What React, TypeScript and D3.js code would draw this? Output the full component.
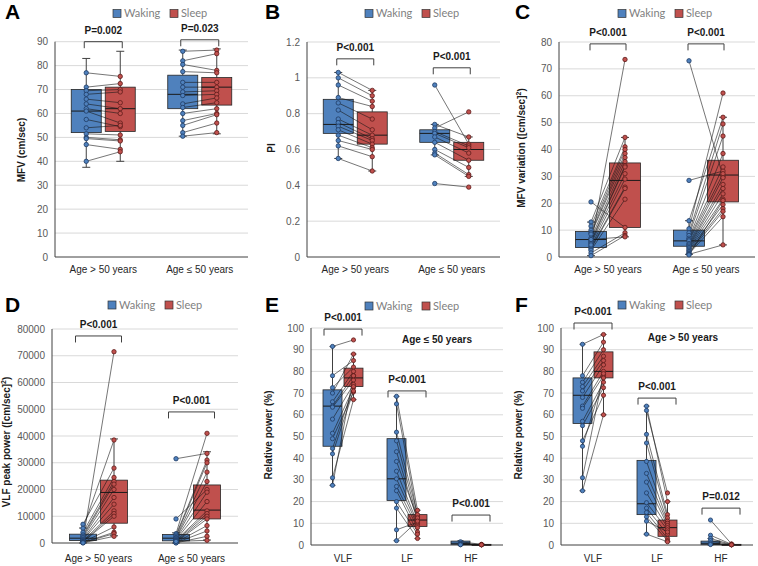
import React from "react";
import * as d3 from "d3";

const BLUE = "#4f81bd";
const RED = "#c0504d";
const BLUE_EDGE = "#1f3b63";
const RED_EDGE = "#5e1c1a";

const ageGroups = ["Age > 50 years", "Age ≤ 50 years"];
const bands = ["VLF", "LF", "HF"];
const legendLabels = ["Waking", "Sleep"];

// box stats: [low whisker, q1, median, q3, high whisker]
// Panel A – MFV
const aWakeBox = [[37.5, 52, 61, 70, 83], [50.5, 62, 68, 76, 86.5]];
const aSleepBox = [[40, 52.5, 62, 71, 86], [51.5, 63.5, 71, 75, 87]];
const aWake = [
  [77, 71, 69.5, 68, 66, 64, 62, 61, 57.5, 54, 51.5, 50, 49.5, 47, 40],
  [86, 82, 80.5, 77.5, 73, 71, 69, 67.5, 64, 62.5, 60, 57, 55, 52, 50.5],
];
const aSleep = [
  [75.5, 72.5, 70, 69, 64.5, 62, 60, 56, 54.5, 55, 51, 49, 48.5, 45, 44],
  [86.5, 85, 78, 77, 73, 71, 69.5, 68, 66.5, 64.5, 62, 60, 59.5, 56, 52],
];
const aP = ["P=0.002", "P=0.023"];
const aPy = [90, 90.8];

// Panel B – PI
const bWakeBox = [[0.55, 0.69, 0.74, 0.88, 1.03], [0.57, 0.64, 0.69, 0.71, 0.74]];
const bSleepBox = [[0.48, 0.63, 0.68, 0.81, 0.93], [0.45, 0.54, 0.6, 0.64, 0.67]];
const bWake = [
  [1.03, 1.0, 0.96, 0.89, 0.86, 0.82, 0.77, 0.75, 0.73, 0.71, 0.68, 0.65, 0.62, 0.55],
  [0.96, 0.74, 0.72, 0.7, 0.69, 0.67, 0.64, 0.6, 0.58, 0.57, 0.41],
];
const bSleep = [
  [0.93, 0.9, 0.87, 0.84, 0.77, 0.71, 0.68, 0.66, 0.65, 0.63, 0.61, 0.6, 0.56, 0.48],
  [0.63, 0.67, 0.81, 0.62, 0.61, 0.58, 0.54, 0.5, 0.46, 0.45, 0.39],
];
const bP = ["P<0.001", "P<0.001"];
const bPy = [1.106, 1.056];

// Panel C – MFV variation
const cWakeBox = [[0.5, 3.5, 6.5, 9.5, 13], [1, 4, 6, 10, 13.5]];
const cSleepBox = [[7.5, 11, 28.5, 35, 44.5], [4.5, 20.5, 30.5, 36, 52]];
const cWake = [
  [20.5, 13, 11.5, 10, 9, 8.5, 7, 6, 5.5, 5, 4, 3.5, 3, 2.5, 1.5, 0.5, 4.5, 6.5],
  [73, 28.5, 13.5, 10.5, 9, 8, 7, 6.5, 6, 5, 4.5, 4, 3.5, 3, 2.5, 2, 1.5, 1.2, 1, 0.8],
];
const cSleep = [
  [11, 44.5, 41, 40, 38.5, 37, 35.5, 34, 33.5, 31, 29, 26, 25.5, 21.5, 9, 8, 73.5, 7.5],
  [30, 32, 52, 61, 49.5, 45, 38.5, 33.5, 31, 29.5, 27, 25.5, 23.5, 21.5, 19.5, 18, 17, 15, 4.5, 21],
];
const cP = ["P<0.001", "P<0.001"];
const cPy = [79.3, 79.3];

// Panel D – VLF peak power
const dWakeBox = [[0, 900, 1800, 3300, 5600], [0, 800, 1800, 3200, 3800]];
const dSleepBox = [[2700, 7400, 18900, 23500, 38900], [1100, 9000, 12300, 21700, 34100]];
const dWake = [
  [7000, 5500, 4000, 3000, 2500, 2000, 1500, 1200, 1000, 800, 500, 400, 300, 200, 100, 50],
  [31500, 9000, 3500, 3000, 2500, 2000, 1800, 1500, 1200, 1000, 800, 500, 300, 200, 100, 50, 600],
];
const dSleep = [
  [28000, 38500, 24500, 23000, 22000, 20000, 17000, 14500, 71500, 12000, 11000, 10000, 6000, 4000, 3500, 2500],
  [33500, 20000, 41000, 31000, 30000, 26500, 23000, 19000, 15500, 12000, 11000, 10000, 9000, 6500, 4500, 2500, 1000],
];
const dP = ["P<0.001", "P<0.001"];
const dPy = [77400, 49000];

// Panel E – relative power, Age ≤ 50
const eWakeBox = [[27.5, 45.5, 64, 71.5, 91.5], [2, 20.5, 30.5, 49, 68.5], [0, 0.3, 0.8, 1.8, 2]];
const eSleepBox = [[67, 73, 77, 81.5, 88], [3, 8.5, 11.5, 14, 16], [0, 0, 0.1, 0.3, 0.5]];
const eWake = [
  [91.5, 78, 72.5, 70, 66, 64, 63.5, 58, 51.5, 49, 44.5, 42, 31, 27.5],
  [68.5, 65, 52, 48, 43, 38.5, 34, 30.5, 27, 25, 20, 17, 7, 2],
  [1.5, 0.8, 0.5, 0.3, 0.2, 0.1],
];
const eSleep = [
  [94.5, 85, 82, 88, 80, 78, 76, 74, 72.5, 70.5, 73, 71, 67, 78],
  [16, 13, 14, 12, 11, 12.5, 10, 9, 8, 6, 5, 3, 10.5, 11],
  [0.3, 0.2, 0.1, 0.1, 0.1, 0.1],
];
const eP = ["P<0.001", "P<0.001", "P<0.001"];
const ePy = [99.5, 71, 13.8];

// Panel F – relative power, Age > 50
const fWakeBox = [[25, 56, 69, 77, 92.5], [5, 14, 19, 39, 64], [0, 0.3, 0.8, 1.8, 3]];
const fSleepBox = [[60, 77, 80, 89, 97], [1.5, 4, 8, 11.5, 20], [0, 0, 0.1, 0.3, 0.5]];
const fWake = [
  [92.5, 78, 75, 73, 71, 68, 64, 63, 57, 55, 48, 45.5, 31, 25],
  [64, 62, 51, 47, 38.5, 33, 29, 24, 19.5, 17, 15, 13, 11, 5],
  [11.5, 4.5, 3, 2, 1, 0.5, 0.2],
];
const fSleep = [
  [97, 93.5, 90, 87, 85, 83, 80, 78, 75, 72.5, 69, 77, 79, 60],
  [20, 24, 14, 12.5, 11, 10, 9, 8, 7, 5, 3, 2, 6, 1.5],
  [0.5, 0.3, 0.2, 0.1, 0.1, 0.1, 0.1],
];
const fP = ["P<0.001", "P<0.001", "P=0.012"];
const fPy = [102.3, 67.7, 17];

type Cfg = {
  x0: number; x1: number; yTop: number; yBot: number;
  max: number; step: number; fmt: (v: number) => string;
  cats: string[];
  wakeBox: number[][]; sleepBox: number[][];
  wake: number[][]; sleep: number[][];
  pLabels: string[]; pY: number[];
  boxW: number; off: number; capW: number; brHalf: number; r: number;
  letter: string; letterX: number; letterY: number;
  legendX: number; legendY: number;
  yLabel: React.ReactNode; yLabelX: number; yLabelY: number;
  xLabelY: number;
  note?: string; noteX?: number; noteY?: number;
};

const FONT = "'Liberation Sans', Arial, sans-serif";

function Box({ cx, w, stats, y, fill, capW }: any) {
  const [lo, q1, med, q3, hi] = stats;
  const h = Math.max(1, y(q1) - y(q3));
  return (
    <g>
      <line x1={cx} x2={cx} y1={y(lo)} y2={y(q1)} stroke="#404040" strokeWidth={1} />
      <line x1={cx} x2={cx} y1={y(q3)} y2={y(hi)} stroke="#404040" strokeWidth={1} />
      <line x1={cx - capW / 2} x2={cx + capW / 2} y1={y(lo)} y2={y(lo)} stroke="#404040" strokeWidth={1} />
      <line x1={cx - capW / 2} x2={cx + capW / 2} y1={y(hi)} y2={y(hi)} stroke="#404040" strokeWidth={1} />
      <rect x={cx - w / 2} y={y(q3)} width={w} height={h} fill={fill} stroke="#262626" strokeWidth={0.8} />
      <line x1={cx - w / 2} x2={cx + w / 2} y1={y(med)} y2={y(med)} stroke="#1a1a1a" strokeWidth={1} />
    </g>
  );
}

function Panel({ c }: { c: Cfg }) {
  const y = d3.scaleLinear().domain([0, c.max]).range([c.yBot, c.yTop]);
  const x = d3.scaleBand<string>().domain(c.cats).range([c.x0, c.x1]).padding(0);
  const ticks = d3.range(0, c.max + c.step / 2, c.step);
  return (
    <g>
      {ticks.filter((t) => t > 0).map((t) => (
        <line key={"g" + t} x1={c.x0} x2={c.x1} y1={y(t)} y2={y(t)} stroke="#d9d9d9" strokeWidth={1} />
      ))}
      {ticks.map((t) => (
        <text key={"t" + t} x={c.x0 - 7} y={y(t)} dy="0.35em" textAnchor="end" fontSize={10} fill="#595959" fontFamily={FONT}>
          {c.fmt(t)}
        </text>
      ))}
      <line x1={c.x0} x2={c.x0} y1={c.yTop} y2={c.yBot} stroke="#404040" strokeWidth={1} />
      <line x1={c.x0} x2={c.x1} y1={c.yBot} y2={c.yBot} stroke="#404040" strokeWidth={1} />
      {c.cats.map((cat, i) => {
        const cx = (x(cat) as number) + x.bandwidth() / 2;
        const wx = cx - c.off;
        const sx = cx + c.off;
        const py = y(c.pY[i]);
        return (
          <g key={cat}>
            <Box cx={wx} w={c.boxW} stats={c.wakeBox[i]} y={y} fill={BLUE} capW={c.capW} />
            <Box cx={sx} w={c.boxW} stats={c.sleepBox[i]} y={y} fill={RED} capW={c.capW} />
            {c.wake[i].map((w, j) => (
              <line key={"l" + j} x1={wx} x2={sx} y1={y(w)} y2={y(c.sleep[i][j])} stroke="#1a1a1a" strokeWidth={0.6} />
            ))}
            {c.wake[i].map((w, j) => (
              <circle key={"w" + j} cx={wx} cy={y(w)} r={c.r} fill={BLUE} stroke={BLUE_EDGE} strokeWidth={0.8} />
            ))}
            {c.sleep[i].map((s, j) => (
              <circle key={"s" + j} cx={sx} cy={y(s)} r={c.r} fill={RED} stroke={RED_EDGE} strokeWidth={0.8} />
            ))}
            <path d={`M${cx - c.brHalf},${py + 6.5}V${py}H${cx + c.brHalf}V${py + 6.5}`} fill="none" stroke="#404040" strokeWidth={1} />
            <text x={cx} y={py - 8} textAnchor="middle" fontSize={10} fontWeight="bold" fill="#1a1a1a" fontFamily={FONT}>
              {c.pLabels[i]}
            </text>
            <text x={cx} y={c.xLabelY} textAnchor="middle" fontSize={10} fill="#262626" fontFamily={FONT}>
              {cat}
            </text>
          </g>
        );
      })}
      {legendLabels.map((l, i) => (
        <g key={l}>
          <rect x={c.legendX + i * 57} y={c.legendY - 4} width={8} height={8} fill={i === 0 ? BLUE : RED} stroke="#333" strokeWidth={0.7} />
          <text x={c.legendX + i * 57 + 11} y={c.legendY} dy="0.35em" fontSize={11} fill="#7f7f7f" fontFamily="Lato, 'Open Sans', sans-serif">
            {l}
          </text>
        </g>
      ))}
      <text x={c.letterX} y={c.letterY} fontSize={21} fontWeight="bold" fill="#000" fontFamily={FONT}>
        {c.letter}
      </text>
      <text transform={`translate(${c.yLabelX + 4},${c.yLabelY}) rotate(-90)`} textAnchor="middle" fontSize={10} fontWeight="bold" fill="#1a1a1a" fontFamily={FONT}>
        {c.yLabel}
      </text>
      {c.note && (
        <text x={c.noteX} y={c.noteY} textAnchor="middle" fontSize={10} fontWeight="bold" fill="#1a1a1a" fontFamily={FONT}>
          {c.note}
        </text>
      )}
    </g>
  );
}

const intFmt = (v: number) => d3.format("d")(v);
const decFmt = (v: number) => String(+v.toFixed(1));

const panels: Cfg[] = [
  {
    x0: 55, x1: 248, yTop: 41.7, yBot: 257, max: 90, step: 10, fmt: intFmt, cats: ageGroups,
    wakeBox: aWakeBox, sleepBox: aSleepBox, wake: aWake, sleep: aSleep, pLabels: aP, pY: aPy,
    boxW: 30, off: 17, capW: 8, brHalf: 19, r: 2.2,
    letter: "A", letterX: 5, letterY: 19, legendX: 113, legendY: 13.5,
    yLabel: "MFV  (cm/sec)", yLabelX: 21, yLabelY: 150, xLabelY: 273,
  },
  {
    x0: 307, x1: 500, yTop: 42, yBot: 257, max: 1.2, step: 0.2, fmt: decFmt, cats: ageGroups,
    wakeBox: bWakeBox, sleepBox: bSleepBox, wake: bWake, sleep: bSleep, pLabels: bP, pY: bPy,
    boxW: 30, off: 17, capW: 8, brHalf: 18.5, r: 2.2,
    letter: "B", letterX: 265, letterY: 19, legendX: 365, legendY: 13.5,
    yLabel: "PI", yLabelX: 271, yLabelY: 148, xLabelY: 273,
  },
  {
    x0: 559, x1: 755, yTop: 42, yBot: 257, max: 80, step: 10, fmt: intFmt, cats: ageGroups,
    wakeBox: cWakeBox, sleepBox: cSleepBox, wake: cWake, sleep: cSleep, pLabels: cP, pY: cPy,
    boxW: 31, off: 17, capW: 8, brHalf: 18, r: 2.2,
    letter: "C", letterX: 515, letterY: 19, legendX: 618, legendY: 13.5,
    yLabel: (<>MFV variation ([cm/sec]<tspan fontSize={7} dy={-4}>2</tspan><tspan dy={4}>)</tspan></>),
    yLabelX: 521, yLabelY: 148, xLabelY: 273,
  },
  {
    x0: 52, x1: 238, yTop: 329, yBot: 543, max: 80000, step: 10000, fmt: intFmt, cats: ageGroups,
    wakeBox: dWakeBox, sleepBox: dSleepBox, wake: dWake, sleep: dSleep, pLabels: dP, pY: dPy,
    boxW: 27, off: 15.5, capW: 8, brHalf: 23, r: 2.2,
    letter: "D", letterX: 5, letterY: 312, legendX: 108, legendY: 305,
    yLabel: (<>VLF peak power ([cm/sec]<tspan fontSize={7} dy={-4}>2</tspan><tspan dy={4}>)</tspan></>),
    yLabelX: 6, yLabelY: 442, xLabelY: 562,
  },
  {
    x0: 311, x1: 503, yTop: 328, yBot: 545, max: 100, step: 10, fmt: intFmt, cats: bands,
    wakeBox: eWakeBox, sleepBox: eSleepBox, wake: eWake, sleep: eSleep, pLabels: eP, pY: ePy,
    boxW: 19, off: 10.5, capW: 6, brHalf: 19, r: 2.1,
    letter: "E", letterX: 265, letterY: 312, legendX: 365, legendY: 306,
    yLabel: "Relative power (%)", yLabelX: 268, yLabelY: 435, xLabelY: 562,
    note: "Age ≤ 50 years", noteX: 437, noteY: 343,
  },
  {
    x0: 561, x1: 753, yTop: 328, yBot: 545, max: 100, step: 10, fmt: intFmt, cats: bands,
    wakeBox: fWakeBox, sleepBox: fSleepBox, wake: fWake, sleep: fSleep, pLabels: fP, pY: fPy,
    boxW: 19, off: 10.5, capW: 6, brHalf: 19, r: 2.1,
    letter: "F", letterX: 515, letterY: 312, legendX: 618, legendY: 305,
    yLabel: "Relative power (%)", yLabelX: 518, yLabelY: 435, xLabelY: 562,
    note: "Age > 50 years", noteX: 683, noteY: 341,
  },
];

export default function App() {
  return (
    <svg width={758} height={566} viewBox="0 0 758 566" style={{ position: "absolute", left: 0, top: 0, background: "#fff" }}>
      <rect width={758} height={566} fill="#fff" />
      {panels.map((p) => (
        <Panel key={p.letter} c={p} />
      ))}
    </svg>
  );
}
